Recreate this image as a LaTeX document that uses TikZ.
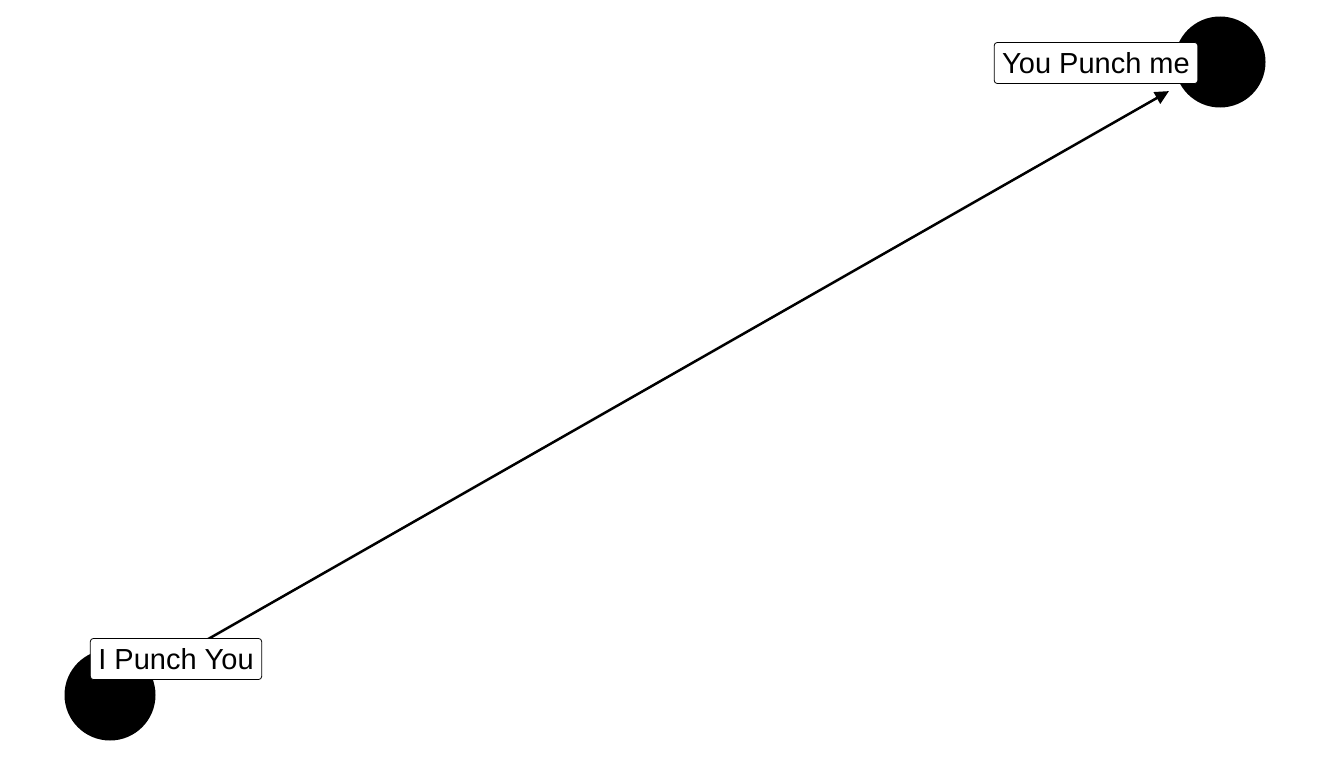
\documentclass[tikz,border=0pt]{standalone}
\usepackage{fontspec}
\setmainfont{Liberation Sans}
\usetikzlibrary{arrows.meta,positioning,calc}

\begin{document}
\begin{tikzpicture}[x=1pt,y=-1pt,
    vnode/.style={circle,fill=black,draw=none,inner sep=0pt,minimum size=91pt},
    lbl/.style={draw=black,fill=white,rounded corners=3pt,line width=0.8pt,
        font=\fontsize{29}{34}\selectfont,text height=21pt,text depth=0pt,
        inner xsep=8pt,minimum height=41pt},
    edge/.style={line width=2.5pt,-{Triangle[length=14pt,width=13pt]},shorten >=13pt}
    ]
    \useasboundingbox (0,0) rectangle (1330,760);

    % the vertices
    \node[vnode] (me) at (110,695) {};
    \node[vnode] (you) at (1220,62) {};

    % the edge
    \draw[edge] (me) -- (you);

    % the labels
    \node[lbl] (lme) at ([shift={(66,-36)}]me) {I Punch You};
    \node[lbl] (lyou) at ([shift={(-124,1)}]you) {You Punch me};
\end{tikzpicture}
\end{document}
